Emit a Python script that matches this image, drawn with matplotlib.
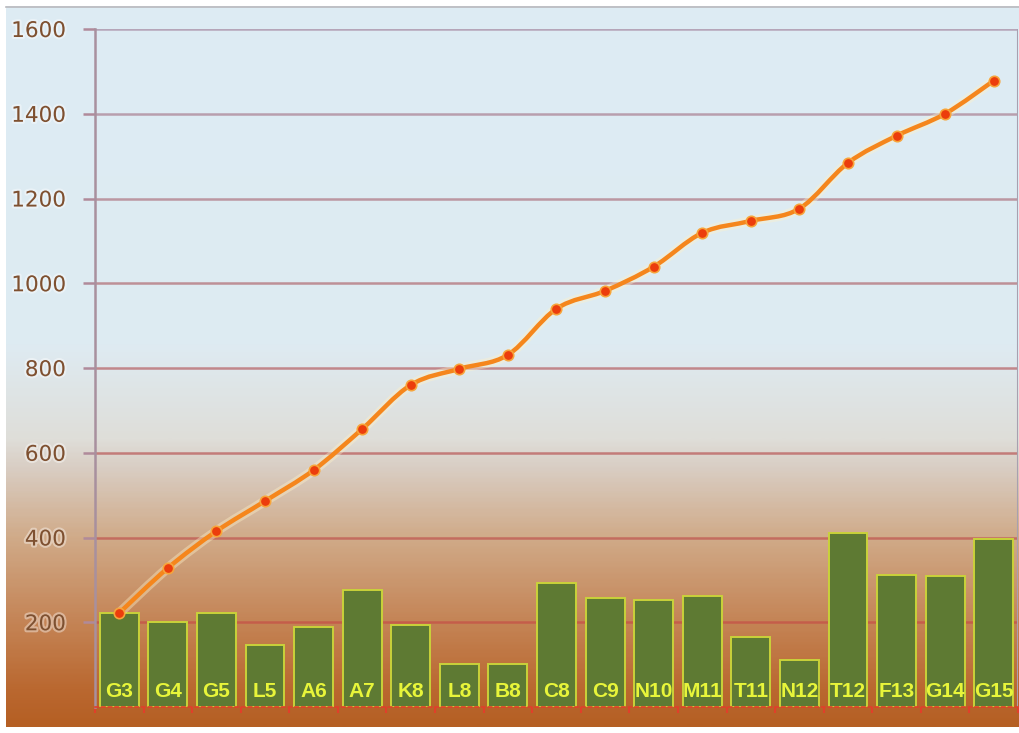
import numpy as np
import matplotlib.pyplot as plt
import matplotlib.patheffects as pe
from matplotlib.path import Path
from matplotlib.patches import PathPatch
from matplotlib.colors import LinearSegmentedColormap

# categories along the x axis
labels = ["G3", "G4", "G5", "L5", "A6", "A7", "K8", "L8", "B8", "C8",
          "C9", "N10", "M11", "T11", "N12", "T12", "F13", "G14", "G15"]
# bar values
bars = [221, 201, 223, 146, 188, 275, 193, 101, 101, 293,
        258, 253, 262, 166, 111, 410, 312, 309, 397]
# line values
line = [222, 328, 415, 486, 559, 656, 760, 798, 831, 940,
        982, 1039, 1119, 1147, 1176, 1284, 1348, 1400, 1478]
yticks = [200, 400, 600, 800, 1000, 1200, 1400, 1600]

W, H = 1020, 733
fig = plt.figure(figsize=(W / 100, H / 100), dpi=100)
fig.patch.set_facecolor("white")

# background gradient, light blue at the top fading to burnt orange
bg = fig.add_axes([0, 0, 1, 1], zorder=0)
bg.set_xlim(0, W)
bg.set_ylim(H, 0)
bg.axis("off")
stops = [(0.0, (221, 236, 244)), (0.47, (222, 235, 242)), (0.60, (223, 222, 217)),
         (0.64, (217, 206, 196)), (0.74, (208, 170, 136)), (0.85, (197, 134, 88)),
         (0.95, (186, 104, 48)), (1.0, (181, 95, 35))]
cmap = LinearSegmentedColormap.from_list(
    "bgfade", [(p, tuple(c / 255 for c in col)) for p, col in stops])
grad = np.linspace(0, 1, 400).reshape(-1, 1)
bg.imshow(grad, cmap=cmap, aspect="auto", extent=[6, W, 727, 6], zorder=0)
bg.plot([6, W], [6.5, 6.5], color="#b9b9bd", lw=1.2, zorder=1)

ax = fig.add_axes([95 / W, 1 - 707 / H, (1018 - 95) / W, (707 - 29) / H], zorder=1)
ax.set_facecolor("none")
x = np.arange(len(labels))
ax.set_xlim(-0.5, len(labels) - 0.5)
ax.set_ylim(0, 1600)

# horizontal grid lines, mauve at the top turning red lower down
top_c = np.array([172, 148, 170]) / 255
low_c = np.array([196, 84, 72]) / 255
for v in yticks:
    f = (v - 200) / 1400
    c = low_c * (1 - f) + top_c * f
    ax.axhline(v, color=c, lw=1.8, alpha=0.8, zorder=1)

ax.bar(x, bars, width=0.8, color="#5e7a33", edgecolor="#c9d23a", linewidth=1.4, zorder=2)
for xi, lab in zip(x, labels):
    ax.text(xi, 36, lab, ha="center", va="center", fontsize=15, fontweight="bold",
            family="Liberation Sans", color="#e8f53a", zorder=3)

# smooth curve through the line values (Catmull-Rom as cubic Beziers)
pts = np.column_stack([x, line]).astype(float)
verts = [tuple(pts[0])]
codes = [Path.MOVETO]
for i in range(len(pts) - 1):
    p0 = pts[max(i - 1, 0)]
    p1 = pts[i]
    p2 = pts[i + 1]
    p3 = pts[min(i + 2, len(pts) - 1)]
    c1 = p1 + (p2 - p0) / 6
    c2 = p2 - (p3 - p1) / 6
    verts += [tuple(c1), tuple(c2), tuple(p2)]
    codes += [Path.CURVE4] * 3
curve = Path(verts, codes)
ax.add_patch(PathPatch(curve, fill=False, edgecolor="#fff2c8", lw=7, alpha=0.4, zorder=4))
ax.add_patch(PathPatch(curve, fill=False, edgecolor="#f5861c", lw=3.2, zorder=5,
                       capstyle="round", joinstyle="round"))
ax.plot(x, line, "o", ms=7.5, color="#ec3d0c", mec="#f7a43a", mew=1.2, zorder=6)

# axes styling
for s in ["top", "right"]:
    ax.spines[s].set_visible(False)
ax.spines["left"].set_color("#a8909e")
ax.spines["left"].set_linewidth(1.8)
ax.spines["bottom"].set_color("#e0402a")
ax.spines["bottom"].set_linewidth(1.2)
ax.spines["bottom"].set_linestyle((0, (2, 2)))
ax.plot([1, 1], [0, 1], transform=ax.transAxes, color="#a8a0b0", lw=1.5, zorder=1)

ax.set_yticks(yticks)
ax.set_yticklabels([str(v) for v in yticks])
ax.tick_params(axis="y", length=9, width=1.8, color="#b08a9a", pad=12,
               labelsize=15.5, labelcolor="#7e5030")
for t in ax.get_yticklabels():
    t.set_family("DejaVu Sans")
    t.set_path_effects([pe.withStroke(linewidth=3, foreground="white", alpha=0.4)])

ax.set_xticks(np.arange(len(labels) + 1) - 0.5)
ax.set_xticklabels([])
ax.tick_params(axis="x", length=4, width=1.5, color="#e0402a", direction="out")

fig.savefig("out.png", dpi=100)
